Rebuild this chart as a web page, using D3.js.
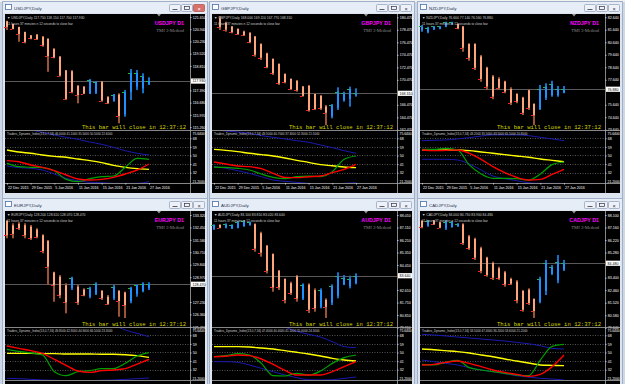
<!DOCTYPE html>
<html>
<head>
<meta charset="utf-8">
<script src="https://cdn.jsdelivr.net/npm/d3@7"></script>
<style>
  html, body { margin: 0; padding: 0; background: #cdd7e5; overflow: hidden; }
  svg { display: block; font-family: "Liberation Sans", Arial, sans-serif; }
</style>
</head>
<body>
<svg id="chart" width="625" height="384"></svg>
<script>
"use strict";

// shared x axis: 25 daily bars, labels every 4 bars
const dateLabels = ["22 Dec 2015", "29 Dec 2015", "5 Jan 2016", "11 Jan 2016", "15 Jan 2016", "21 Jan 2016", "27 Jan 2016"];
const dateLabelBars = [0, 4, 8, 12, 16, 20, 24];
const indicatorBars = [0, 2, 4, 6, 8, 10, 12, 14, 16, 18, 20, 22, 24];
const indicatorLevels = [68, 59, 50, 41, 32];

// [open, high, low, close]
const usdjpyBars = [
  [121.40, 121.43, 120.89, 121.07], [121.24, 121.24, 120.93, 120.95], [121.07, 121.08, 120.21, 120.66],
  [120.78, 120.79, 120.12, 120.20], [120.58, 120.60, 120.35, 120.40], [120.62, 120.66, 120.31, 120.36],
  [120.50, 120.54, 119.92, 120.00], [120.38, 120.41, 118.47, 119.38], [119.80, 119.83, 119.25, 119.30],
  [119.35, 119.38, 118.18, 118.25], [118.55, 118.57, 116.83, 116.90], [118.50, 118.57, 117.22, 117.30],
  [117.65, 117.70, 116.64, 117.12], [117.60, 117.64, 117.18, 117.20], [117.20, 118.05, 117.18, 118.00],
  [117.25, 117.93, 117.18, 117.90], [117.90, 117.93, 116.73, 116.80], [117.00, 117.06, 116.60, 116.65],
  [116.80, 117.18, 116.73, 117.15], [117.15, 117.22, 115.48, 115.90], [116.00, 117.42, 115.86, 117.30],
  [117.30, 118.63, 116.83, 118.40], [117.60, 118.57, 117.41, 118.40], [117.50, 118.38, 117.22, 118.20],
  [117.75, 118.15, 117.70, 117.93]
];
const usdjpyTicks = [121.650, 120.940, 120.230, 119.520, 118.810, 118.100, 117.390, 116.680, 115.970, 115.260];

const gbpjpyBars = [
  [180.30, 180.68, 178.44, 178.90], [179.60, 179.77, 178.17, 178.50], [179.00, 179.08, 177.91, 178.10],
  [178.60, 178.71, 177.64, 177.80], [178.20, 178.33, 177.48, 177.60], [178.00, 178.07, 176.31, 176.50],
  [177.40, 177.48, 174.17, 174.50], [176.20, 176.31, 173.64, 174.00], [174.70, 174.81, 172.31, 172.50],
  [173.80, 173.91, 171.24, 171.50], [173.00, 173.11, 169.64, 169.90], [171.40, 171.51, 169.91, 170.10],
  [170.60, 170.71, 168.84, 169.00], [170.30, 170.44, 168.57, 168.80], [169.40, 169.48, 167.77, 167.90],
  [169.50, 169.64, 165.37, 165.60], [168.20, 168.31, 165.64, 165.80], [167.90, 168.04, 165.64, 165.90],
  [166.20, 166.44, 163.24, 165.20], [164.60, 166.60, 164.31, 166.40], [166.00, 169.27, 165.64, 168.60],
  [167.20, 168.57, 166.97, 168.30], [167.40, 169.37, 166.17, 169.00], [168.00, 169.11, 167.77, 168.31]
];
const gbpjpyTicks = [180.470, 178.470, 176.470, 174.470, 172.470, 170.470, 168.470, 166.470, 164.470, 162.470];

const nzdjpyBars = [
  [81.60, 82.02, 81.48, 81.90], [81.45, 81.88, 81.36, 81.80], [81.70, 81.94, 81.62, 81.90],
  [81.72, 81.94, 81.68, 81.90], [81.90, 82.28, 81.84, 82.25], [82.05, 82.28, 82.02, 82.25],
  [82.10, 82.16, 81.68, 81.75], [81.90, 81.94, 79.88, 80.20], [80.50, 80.56, 79.16, 79.40],
  [80.50, 80.56, 78.42, 78.60], [79.50, 79.62, 77.48, 77.70], [78.60, 78.68, 76.82, 77.10],
  [77.90, 78.02, 76.08, 76.30], [77.70, 77.84, 76.82, 77.00], [77.50, 77.56, 76.56, 76.70],
  [76.90, 77.04, 75.62, 75.80], [76.50, 76.56, 75.76, 75.90], [76.20, 76.28, 74.82, 75.00],
  [76.80, 76.88, 75.22, 75.40], [75.70, 75.76, 74.02, 74.80], [75.30, 77.22, 75.22, 76.90],
  [76.20, 77.36, 76.02, 77.10], [76.40, 77.56, 76.28, 77.30], [76.40, 77.14, 76.28, 76.90],
  [76.60, 77.14, 76.56, 76.88]
];
const nzdjpyTicks = [82.640, 81.640, 80.640, 79.640, 78.640, 77.640, 76.640, 75.640, 74.640, 73.640];

const eurjpyBars = [
  [132.90, 132.97, 131.69, 131.90], [132.60, 132.74, 131.69, 132.00], [132.70, 132.81, 132.27, 132.40],
  [132.60, 132.74, 131.69, 131.90], [132.50, 132.62, 131.57, 131.70], [132.30, 132.39, 131.69, 131.80],
  [131.90, 131.97, 130.64, 130.80], [131.50, 131.57, 128.42, 129.70], [129.30, 129.35, 127.25, 128.40],
  [129.00, 129.12, 127.49, 127.70], [128.40, 128.54, 126.44, 127.20], [128.20, 129.00, 128.07, 128.90],
  [128.30, 128.42, 127.02, 127.20], [128.10, 128.19, 127.63, 127.70], [127.60, 128.30, 127.49, 128.20],
  [127.80, 128.61, 127.72, 128.50], [128.00, 128.07, 127.37, 127.50], [127.60, 127.72, 127.02, 127.10],
  [127.50, 128.42, 127.37, 128.30], [128.00, 128.07, 126.20, 127.30], [127.90, 127.95, 126.11, 127.00],
  [127.30, 128.30, 127.14, 128.20], [127.80, 128.47, 127.60, 128.40], [128.00, 128.61, 127.91, 128.50],
  [128.20, 128.61, 128.07, 128.47]
];
const eurjpyTicks = [133.320, 132.450, 131.580, 130.710, 129.840, 128.970, 128.100, 127.230, 126.360, 125.490];

const audjpyBars = [
  [87.00, 87.34, 86.93, 87.30], [87.30, 87.34, 87.05, 87.10], [87.10, 87.41, 87.05, 87.35],
  [87.05, 87.34, 87.00, 87.30], [87.10, 87.58, 87.05, 87.50], [87.20, 87.65, 87.17, 87.60],
  [87.30, 87.53, 87.24, 87.50], [87.35, 87.41, 85.37, 85.60], [86.70, 86.81, 85.01, 85.30],
  [85.80, 85.85, 83.81, 84.00], [85.20, 85.25, 82.49, 82.80], [84.00, 84.05, 82.61, 82.80],
  [83.40, 83.45, 81.65, 81.90], [83.10, 83.21, 82.25, 82.40], [83.60, 83.69, 81.77, 82.00],
  [82.00, 83.09, 81.89, 83.00], [83.00, 83.09, 80.96, 81.20], [82.60, 82.73, 81.05, 81.30],
  [81.40, 82.73, 81.29, 82.60], [81.90, 82.01, 80.60, 81.40], [81.70, 83.02, 81.53, 82.90],
  [82.20, 83.89, 82.01, 83.60], [83.00, 83.69, 82.97, 83.50], [82.90, 83.64, 82.73, 83.40],
  [83.10, 83.81, 83.02, 83.64]
];
const audjpyTicks = [88.010, 87.110, 86.210, 85.310, 84.410, 83.510, 82.610, 81.710, 80.810, 79.910];

const cadjpyBars = [
  [87.65, 87.73, 87.10, 87.20], [87.30, 87.73, 87.22, 87.65], [87.70, 87.73, 87.35, 87.40],
  [87.55, 87.60, 87.10, 87.15], [87.10, 87.73, 86.98, 87.60], [87.20, 87.65, 87.15, 87.60],
  [87.25, 87.48, 87.22, 87.45], [87.40, 87.48, 85.85, 86.00], [86.50, 86.60, 85.48, 85.60],
  [86.30, 86.40, 84.73, 84.90], [85.60, 85.72, 83.73, 83.90], [84.90, 84.97, 83.47, 83.60],
  [84.50, 84.60, 83.22, 83.40], [84.10, 84.22, 83.22, 83.35], [83.80, 83.90, 82.72, 82.90],
  [83.30, 83.40, 82.85, 82.95], [83.10, 83.22, 81.48, 81.70], [82.40, 82.48, 80.85, 81.00],
  [82.50, 82.60, 81.35, 81.50], [81.80, 81.85, 80.38, 80.90], [81.60, 83.47, 81.48, 83.30],
  [82.40, 84.73, 82.10, 84.50], [83.70, 84.35, 83.60, 84.20], [83.20, 85.10, 82.98, 84.60],
  [84.00, 84.73, 83.90, 84.48]
];
const cadjpyTicks = [88.100, 87.160, 86.220, 85.280, 84.340, 83.400, 82.460, 81.520, 80.580, 79.640];

// Traders Dynamic Index, read every second bar
const usdjpyUpper  = [79.0, 78.0, 76.7, 74.2, 71.5, 69.0, 66.9, 64.1, 61.7, 58.5, 55.0, 52.3, 50.5];
const usdjpyMid    = [55.7, 53.6, 52.3, 50.5, 49.1, 48.1, 46.3, 44.6, 42.5, 39.7, 37.6, 36.2, 35.5];
const usdjpySignal = [44.6, 43.5, 40.1, 37.6, 34.1, 29.6, 25.4, 24.3, 25.0, 27.1, 30.6, 34.8, 41.1];
const usdjpyRsi    = [41.8, 38.3, 37.6, 37.3, 34.1, 25.0, 22.6, 25.7, 27.8, 28.5, 37.6, 47.0, 46.0];
const usdjpyLower  = [39.0, 37.3, 36.6, 34.8, 30.6, 26.1, 23.6, 21.9, 21.5, 20.8, 20.8, 20.8, 22.6];

const gbpjpyUpper  = [76.7, 75.6, 74.6, 73.2, 70.8, 69.0, 67.3, 65.5, 63.8, 61.0, 58.2, 55.0, 52.3];
const gbpjpyMid    = [56.4, 55.4, 54.0, 52.3, 50.9, 49.5, 47.4, 44.9, 42.8, 40.4, 39.3, 37.9, 37.3];
const gbpjpySignal = [43.2, 41.1, 39.0, 38.3, 36.2, 31.3, 27.1, 26.8, 27.8, 28.5, 32.0, 35.5, 40.7];
const gbpjpyRsi    = [37.9, 37.6, 36.6, 34.8, 30.6, 27.1, 25.7, 27.8, 28.5, 27.8, 33.1, 46.0, 49.5];
const gbpjpyLower  = [38.3, 36.6, 34.1, 31.3, 27.8, 24.3, 22.9, 21.9, 20.8, 20.2, 20.2, 20.8, 21.5];

const nzdjpyUpper  = [65.5, 65.9, 66.2, 67.3, 68.7, 70.4, 71.5, 71.5, 71.5, 70.8, 69.0, 67.3, 65.5];
const nzdjpyMid    = [55.8, 55.8, 55.8, 55.8, 55.1, 53.7, 52.3, 50.9, 49.5, 48.1, 46.3, 44.9, 43.5];
const nzdjpySignal = [55.8, 55.1, 55.4, 55.8, 52.3, 46.0, 38.3, 32.0, 27.1, 24.3, 25.0, 30.3, 35.5];
const nzdjpyRsi    = [56.4, 56.4, 57.5, 55.8, 40.1, 30.6, 26.1, 26.1, 25.7, 24.3, 30.6, 40.4, 43.2];
const nzdjpyLower  = [46.0, 46.0, 46.0, 45.3, 41.1, 34.8, 28.5, 25.7, 23.6, 21.5, 20.8, 20.8, 20.8];

const eurjpyUpper  = [85.0, 86.0, 86.0, 85.0, 84.0, 83.0, 82.0, 81.0, 80.0, 78.5, 73.5, 70.0, 66.5];
const eurjpyMid    = [49.1, 49.1, 49.1, 48.8, 48.8, 48.4, 48.4, 48.4, 48.1, 48.1, 47.7, 46.7, 44.9];
const eurjpySignal = [56.8, 54.3, 51.9, 49.1, 42.8, 36.5, 30.6, 29.2, 31.0, 31.7, 33.1, 37.9, 42.8];
const eurjpyRsi    = [53.3, 51.2, 49.5, 47.4, 29.9, 25.7, 29.9, 31.0, 33.1, 33.1, 38.7, 46.3, 49.8];
const eurjpyLower  = [22.9, 22.6, 21.9, 21.2, 20.9, 20.5, 20.5, 20.5, 20.9, 21.2, 21.9, 22.6, 23.3];

const audjpyUpper  = [84.0, 84.0, 84.0, 83.5, 83.0, 82.0, 76.5, 72.2, 69.0, 66.2, 61.3, 56.1, 55.0];
const audjpyMid    = [56.1, 56.1, 56.1, 55.7, 54.7, 53.6, 51.9, 50.2, 48.4, 46.3, 43.9, 42.1, 41.1];
const audjpySignal = [45.6, 46.0, 47.4, 46.7, 43.2, 37.6, 31.3, 26.4, 26.4, 26.4, 29.9, 35.2, 40.4];
const audjpyRsi    = [45.6, 46.7, 48.8, 47.4, 38.6, 25.7, 25.4, 28.2, 26.4, 30.6, 38.6, 44.6, 47.4];
const audjpyLower  = [40.4, 40.4, 39.7, 36.9, 33.4, 29.9, 26.4, 23.6, 21.5, 21.2, 21.5, 22.9, 24.3];

const cadjpyUpper  = [69.0, 68.3, 67.3, 66.2, 65.2, 64.1, 63.1, 62.0, 60.6, 59.2, 57.1, 54.3, 53.6];
const cadjpyMid    = [53.6, 52.9, 51.9, 50.9, 49.5, 47.4, 45.6, 43.2, 41.1, 39.0, 36.9, 36.5, 36.2];
const cadjpySignal = [36.9, 37.6, 39.7, 41.1, 38.6, 35.2, 31.7, 29.2, 27.1, 25.0, 27.1, 35.2, 47.4];
const cadjpyRsi    = [37.6, 36.9, 39.7, 41.8, 34.1, 31.7, 29.9, 28.2, 26.4, 25.7, 42.1, 56.4, 58.5];
const cadjpyLower  = [42.1, 40.4, 38.6, 36.9, 34.1, 31.7, 29.9, 27.8, 25.7, 24.3, 22.9, 22.2, 21.2];

const panels = [
  { name: "USDJPY", bars: usdjpyBars, first: 0, ticks: usdjpyTicks, domain: [115.092, 121.82],
    ind: [usdjpyUpper, usdjpyLower, usdjpyMid, usdjpyRsi, usdjpySignal], wx: 2, wy: 1, active: true },
  { name: "GBPJPY", bars: gbpjpyBars, first: 1, ticks: gbpjpyTicks, domain: [162.44, 181.0],
    ind: [gbpjpyUpper, gbpjpyLower, gbpjpyMid, gbpjpyRsi, gbpjpySignal], wx: 209, wy: 1 },
  { name: "NZDJPY", bars: nzdjpyBars, first: 0, ticks: nzdjpyTicks, domain: [73.62, 82.9],
    ind: [nzdjpyUpper, nzdjpyLower, nzdjpyMid, nzdjpyRsi, nzdjpySignal], wx: 417, wy: 1 },
  { name: "EURJPY", bars: eurjpyBars, first: 0, ticks: eurjpyTicks, domain: [125.48, 133.6],
    ind: [eurjpyUpper, eurjpyLower, eurjpyMid, eurjpyRsi, eurjpySignal], wx: 2, wy: 198 },
  { name: "AUDJPY", bars: audjpyBars, first: 0, ticks: audjpyTicks, domain: [79.948, 88.3],
    ind: [audjpyUpper, audjpyLower, audjpyMid, audjpyRsi, audjpySignal], wx: 209, wy: 198 },
  { name: "CADJPY", bars: cadjpyBars, first: 0, ticks: cadjpyTicks, domain: [79.7, 88.4],
    ind: [cadjpyUpper, cadjpyLower, cadjpyMid, cadjpyRsi, cadjpySignal], wx: 417, wy: 198 }
];

const WIN_W = 206;
const BLACK_W = 200;
const PLOT_W = 185;
const MAIN_H = 116;
const IND_TOP = 117;
const IND_H = 52;
const DATE_TOP = 169;
const BLACK_H = 179;
const PAGE_H = 384;
const SANS = "'Liberation Sans', Arial, sans-serif";
const MONO = "'Liberation Mono', 'DejaVu Sans Mono', monospace";
const SERIF = "'Liberation Serif', 'DejaVu Serif', serif";

const svg = d3.select("#chart");
svg.append("rect").attr("width", 625).attr("height", 2).attr("fill", "#f2f2f2");

const x = d3.scaleLinear().domain([0, 24]).range([2, 144]);
const px = i => Math.round(x(i));

panels.forEach(drawPanel);

function label(sel, size, fill, family) {
  return sel.style("font-family", family || SANS).style("font-size", `${size}px`).attr("fill", fill);
}

function drawPanel(p, k) {
  const g = svg.append("g").attr("transform", `translate(${p.wx},${p.wy})`);

  // window frame + title bar
  g.append("rect")
    .attr("x", 0.5).attr("y", 0.5)
    .attr("width", WIN_W - 1).attr("height", 200)
    .attr("fill", "#dce4ef").attr("stroke", "#9fb0c8");
  g.append("rect")
    .attr("x", 1).attr("y", 1).attr("width", WIN_W - 2).attr("height", 11)
    .attr("fill", "#e7edf6");
  g.append("rect")
    .attr("x", 3.5).attr("y", 3.5).attr("width", 6).attr("height", 5)
    .attr("fill", "#ffffff").attr("stroke", "#4a6fa5").attr("stroke-width", 0.8);
  label(g.append("text").attr("x", 12).attr("y", 9), 4.4, "#1e3050").text(`${p.name},Daily`);
  [0, 1, 2].forEach(b => {
    const isClose = b === 2;
    g.append("rect")
      .attr("x", 167.5 + b * 12).attr("y", 3.5).attr("width", 11).attr("height", 7).attr("rx", 1)
      .attr("fill", isClose && p.active ? "#d9706a" : "#eef2f8")
      .attr("stroke", isClose && p.active ? "#a84a44" : "#8c9db5").attr("stroke-width", 0.7);
  });
  g.append("line").attr("x1", 170.5).attr("x2", 175.5).attr("y1", 8.5).attr("y2", 8.5)
    .attr("stroke", "#334").attr("stroke-width", 0.8);
  g.append("rect").attr("x", 182.5).attr("y", 5.5).attr("width", 5).attr("height", 3)
    .attr("fill", "none").attr("stroke", "#334").attr("stroke-width", 0.7);
  label(g.append("text").attr("x", 197).attr("y", 9.5).attr("text-anchor", "middle"), 5.5, p.active ? "#fff" : "#334")
    .text("×");

  // chart body
  const c = g.append("g").attr("transform", "translate(3,13)");
  c.append("rect").attr("width", BLACK_W).attr("height", BLACK_H).attr("fill", "#000");

  const clipId = `clip${k}`;
  c.append("clipPath").attr("id", clipId)
    .append("rect").attr("x", 0).attr("y", IND_TOP).attr("width", PLOT_W).attr("height", IND_H);

  const y = d3.scaleLinear().domain(p.domain).range([MAIN_H, 0]);
  const yi = d3.scaleLinear().domain([21.2, 75.64]).range([IND_TOP + IND_H, IND_TOP]);

  const last = p.bars[p.bars.length - 1];
  const current = last[3];
  const fmt = d3.format(".3f");

  // current price line
  c.append("line")
    .attr("x1", 0).attr("x2", PLOT_W)
    .attr("y1", Math.round(y(current)) + 0.5).attr("y2", Math.round(y(current)) + 0.5)
    .attr("stroke", "#707070").attr("stroke-width", 0.8);

  // bars: wick, body, close mark
  const bars = p.bars.map((d, i) => ({ i: i + p.first, o: d[0], h: d[1], l: d[2], c: d[3], up: d[3] >= d[0] }));
  c.selectAll(".wick").data(bars).join("rect")
    .attr("x", d => px(d.i) - 1).attr("width", 2)
    .attr("y", d => y(d.h)).attr("height", d => y(d.l) - y(d.h))
    .attr("fill", d => d.up ? "#1a6fc4" : "#9c5438");
  c.selectAll(".body").data(bars).join("rect")
    .attr("x", d => px(d.i) - 1).attr("width", 2)
    .attr("y", d => y(Math.max(d.o, d.c)))
    .attr("height", d => Math.max(1, Math.abs(y(d.o) - y(d.c))))
    .attr("fill", d => d.up ? "#1e90ff" : "#ffa57c");
  c.selectAll(".mark").data(bars).join("rect")
    .attr("x", d => px(d.i) - 3).attr("width", 2)
    .attr("y", d => Math.round(y(d.c))).attr("height", 1)
    .attr("fill", d => d.up ? "#22c022" : "#ff2020");

  // price axis; the label under the current-price box is hidden, as in the terminal
  c.append("line").attr("x1", PLOT_W + 0.5).attr("x2", PLOT_W + 0.5).attr("y1", 0).attr("y2", BLACK_H)
    .attr("stroke", "#a8a8a8").attr("stroke-width", 0.8);
  const shownTicks = p.ticks.filter(t => Math.abs(y(t) - y(current)) > 5.5);
  const pa = c.append("g").attr("transform", `translate(${PLOT_W},0)`)
    .call(d3.axisRight(y).tickValues(shownTicks).tickSize(1.5).tickPadding(1.2).tickFormat(fmt));
  pa.select(".domain").remove();
  pa.selectAll("line").attr("stroke", "#c0c0c0");
  label(pa.selectAll("text"), 3.6, "#fff");

  c.append("rect")
    .attr("x", PLOT_W + 1).attr("y", y(current) - 2.6).attr("width", 14).attr("height", 5.2)
    .attr("fill", "#fff");
  label(c.append("text").attr("x", PLOT_W + 2.5).attr("y", y(current) + 1.3), 3.6, "#000").text(fmt(current));

  // chart labels
  c.append("path").attr("d", "M152,0 L156,0 L154,2.5 Z").attr("fill", "#9a9a9a");
  label(c.append("text").attr("x", 2).attr("y", 5), 3.4, "#d0d0d0")
    .text(`▼ ${p.name},Daily  ${fmt(last[0])} ${fmt(last[1])} ${fmt(last[2])} ${fmt(last[3])}`);
  label(c.append("text").attr("x", 2).attr("y", 10.5), 3.2, "#d0d0d0")
    .text("11 hours 37 minutes n 12 seconds to close bar");
  label(c.append("text").attr("x", 179).attr("y", 10.5).attr("text-anchor", "end"), 5.3, "#ff00ff")
    .style("font-weight", "bold").text(`${p.name} D1`);
  label(c.append("text").attr("x", 179).attr("y", 17.5).attr("text-anchor", "end"), 4.6, "#8a8a8a", SERIF)
    .text("TMI 3-Method");
  label(c.append("text").attr("x", 181).attr("y", 114.5).attr("text-anchor", "end"), 5.6, "#d6d600", MONO)
    .text("This bar will close in 12:37:12");

  // indicator window
  c.append("line").attr("x1", 0).attr("x2", BLACK_W).attr("y1", MAIN_H + 0.5).attr("y2", MAIN_H + 0.5)
    .attr("stroke", "#a8a8a8").attr("stroke-width", 0.8);
  c.selectAll(".lvl").data(indicatorLevels).join("line")
    .attr("x1", 0).attr("x2", PLOT_W)
    .attr("y1", d => Math.round(yi(d)) + 0.5).attr("y2", d => Math.round(yi(d)) + 0.5)
    .attr("stroke", "#8c8c8c").attr("stroke-width", 0.6).attr("stroke-dasharray", "1,1.5");

  const lineColors = ["#1a1ab0", "#1a1ab0", "#ffff00", "#00a000", "#ff0000"];
  const lineWidths = [1, 1, 1.4, 1.2, 1.4];
  const lineGen = d3.line()
    .x((d, j) => x(indicatorBars[j]))
    .y(d => yi(d))
    .curve(d3.curveMonotoneX);
  const lines = c.append("g").attr("clip-path", `url(#${clipId})`);
  p.ind.forEach((series, s) => {
    lines.append("path").attr("d", lineGen(series))
      .attr("fill", "none").attr("stroke", lineColors[s]).attr("stroke-width", lineWidths[s]);
  });

  const [up, lo, mid, rsi, sig] = p.ind.map(s => s[s.length - 1]);
  label(c.append("text").attr("x", 2).attr("y", IND_TOP + 4.3), 3, "#d0d0d0")
    .text(`Traders_Dynamic_Index(13,0,7,34) ${rsi.toFixed(4)} ${sig.toFixed(4)} ${mid.toFixed(4)} ${up.toFixed(4)} ${lo.toFixed(4)}`);

  const ia = c.append("g").attr("transform", `translate(${PLOT_W},0)`)
    .call(d3.axisRight(yi).tickValues(indicatorLevels).tickSize(1.5).tickPadding(1.2));
  ia.select(".domain").remove();
  ia.selectAll("line").attr("stroke", "#c0c0c0");
  label(ia.selectAll("text"), 3.6, "#fff");
  label(c.append("text").attr("x", PLOT_W + 2.5).attr("y", IND_TOP + 4.3), 3.4, "#fff")
    .text(yi.domain()[1].toFixed(4));
  if (p.wy + 13 + IND_TOP + IND_H + 2 < PAGE_H) {
    label(c.append("text").attr("x", PLOT_W + 2.5).attr("y", IND_TOP + IND_H - 0.5), 3.4, "#fff")
      .text(yi.domain()[0].toFixed(4));
  }

  // date axis, only where it is inside the page
  c.append("line").attr("x1", 0).attr("x2", BLACK_W).attr("y1", DATE_TOP + 0.5).attr("y2", DATE_TOP + 0.5)
    .attr("stroke", "#a8a8a8").attr("stroke-width", 0.8);
  if (p.wy + 13 + DATE_TOP + 8 < PAGE_H) {
    const da = c.append("g").attr("transform", `translate(0,${DATE_TOP})`)
      .call(d3.axisBottom(x).tickValues(dateLabelBars).tickSize(1.5).tickPadding(1.5)
        .tickFormat((d, i) => dateLabels[i]));
    da.select(".domain").remove();
    da.selectAll("line").attr("stroke", "#c0c0c0");
    label(da.selectAll("text"), 3.6, "#fff").attr("text-anchor", "start").attr("dx", 0.5);
  }
}
</script>
</body>
</html>
